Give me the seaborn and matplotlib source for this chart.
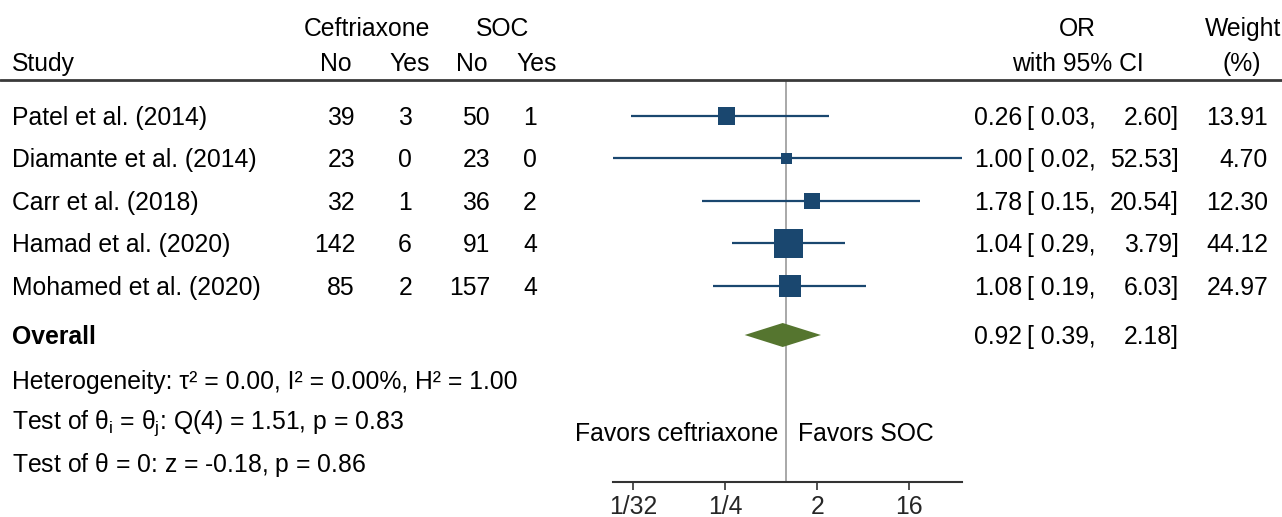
import matplotlib
matplotlib.use('Agg')
import matplotlib.pyplot as plt
import matplotlib.transforms as mtransforms
from matplotlib.lines import Line2D
import seaborn as sns
import pandas as pd

# study level data
studies = ['Patel et al. (2014)', 'Diamante et al. (2014)', 'Carr et al. (2018)',
           'Hamad et al. (2020)', 'Mohamed et al. (2020)']
cef_no = [39, 23, 32, 142, 85]
cef_yes = [3, 0, 1, 6, 2]
soc_no = [50, 23, 36, 91, 157]
soc_yes = [1, 0, 2, 4, 4]
odds = [0.26, 1.00, 1.78, 1.04, 1.08]
ci_low = [0.03, 0.02, 0.15, 0.29, 0.19]
ci_high = [2.60, 52.53, 20.54, 3.79, 6.03]
weight = [13.91, 4.70, 12.30, 44.12, 24.97]

# pooled estimate
overall_or = 0.92
overall_low = 0.39
overall_high = 2.18

stats_lines = ['Heterogeneity: τ² = 0.00, I² = 0.00%, H² = 1.00',
               r'Test of $\theta_\mathregular{i}$ = $\theta_\mathregular{j}$: Q(4) = 1.51, p = 0.83',
               r'Test of $\theta$ = 0: z = -0.18, p = 0.86']

tick_vals = [1/32, 1/4, 2, 16]
tick_labels = ['1/32', '1/4', '2', '16']

df = pd.DataFrame({'study': studies, 'OR': odds, 'lo': ci_low, 'hi': ci_high,
                   'weight': weight, 'row': range(len(studies))})

sns.set_theme(style='white')
plt.rcParams['font.family'] = ['Liberation Sans', 'DejaVu Sans']
plt.rcParams['mathtext.fontset'] = 'custom'
plt.rcParams['mathtext.rm'] = 'Liberation Sans'
plt.rcParams['mathtext.it'] = 'Liberation Sans'
plt.rcParams['mathtext.bf'] = 'Liberation Sans:bold'

W, H = 1282, 517
FS = 17.8
navy = '#1a476f'
green = '#55752f'

fig = plt.figure(figsize=(W / 100, H / 100), dpi=100)
fig.patch.set_facecolor('white')

# axes covers from header line (y=80px) to the x axis (y=482px)
ax = fig.add_axes([613 / W, (H - 482) / H, 349 / W, (482 - 80) / H])
row_px, step = 116, 42.4


def to_row(px):
    return (px - row_px) / step


ax.set_ylim(to_row(482), to_row(80))
ax.set_xscale('log', base=2)
ax.set_xlim(0.02, 52.53)

# confidence intervals
ax.hlines(df['row'], df['lo'], df['hi'], color=navy, lw=1.6, zorder=2)
# null line
ax.axvline(1, color='#9a9a9a', lw=1.2, zorder=1)
# weighted squares
sns.scatterplot(data=df, x='OR', y='row', size='weight', sizes=(63, 436),
                marker='s', color=navy, linewidth=0, legend=False, ax=ax, zorder=3)

# overall diamond
oy = to_row(335)
hh = 12 / step
ax.fill([overall_low, overall_or, overall_high, overall_or],
        [oy, oy - hh, oy, oy + hh], color=green, lw=0, zorder=3)

ax.set_xticks(tick_vals)
ax.set_xticklabels(tick_labels, fontsize=FS)
ax.minorticks_off()
ax.set_yticks([])
ax.set_xlabel('')
ax.set_ylabel('')
for s in ['top', 'right', 'left']:
    ax.spines[s].set_visible(False)
ax.spines['bottom'].set_color('#333333')
ax.spines['bottom'].set_linewidth(1.5)
ax.tick_params(axis='x', direction='out', length=6, width=1.2, color='#333333',
               pad=3, bottom=True)
ax.set_facecolor('white')

trans = mtransforms.blended_transform_factory(fig.transFigure, ax.transData)
dy = 2 / step  # text sits a touch below the marker centre


def put(px, row, s, ha='left', **kw):
    ax.text(px / W, row + dy, s, transform=trans, ha=ha, va='center', fontsize=FS,
            color='black', clip_on=False, **kw)


# header
h1, h2 = to_row(27), to_row(62)
put(367, h1, 'Ceftriaxone', ha='center')
put(503, h1, 'SOC', ha='center')
put(1077, h1, 'OR', ha='center')
put(1281, h1, 'Weight', ha='right')
put(12, h2, 'Study')
put(336, h2, 'No', ha='center')
put(410, h2, 'Yes', ha='center')
put(472, h2, 'No', ha='center')
put(537, h2, 'Yes', ha='center')
put(1078, h2, 'with 95% CI', ha='center')
put(1242, h2, '(%)', ha='center')
fig.add_artist(Line2D([0, 1], [1 - 80 / H, 1 - 80 / H], transform=fig.transFigure,
                      color='#3a3a3a', lw=2))

# study rows
for i in range(len(studies)):
    put(12, i, studies[i])
    put(355, i, str(cef_no[i]), ha='right')
    put(412, i, str(cef_yes[i]), ha='right')
    put(490, i, str(soc_no[i]), ha='right')
    put(537, i, str(soc_yes[i]), ha='right')
    put(1022, i, f'{odds[i]:.2f}', ha='right')
    put(1027, i, f'[ {ci_low[i]:.2f},')
    put(1179, i, f'{ci_high[i]:.2f}]', ha='right')
    put(1268, i, f'{weight[i]:.2f}', ha='right')

put(12, oy, 'Overall', fontweight='bold')
put(1022, oy, f'{overall_or:.2f}', ha='right')
put(1027, oy, f'[ {overall_low:.2f},')
put(1179, oy, f'{overall_high:.2f}]', ha='right')

for s, px in zip(stats_lines, [380, 421, 463]):
    put(12, to_row(px), s)

put(778, to_row(432), 'Favors ceftriaxone', ha='right')
put(798, to_row(432), 'Favors SOC')

fig.savefig('out.png', dpi=100)
